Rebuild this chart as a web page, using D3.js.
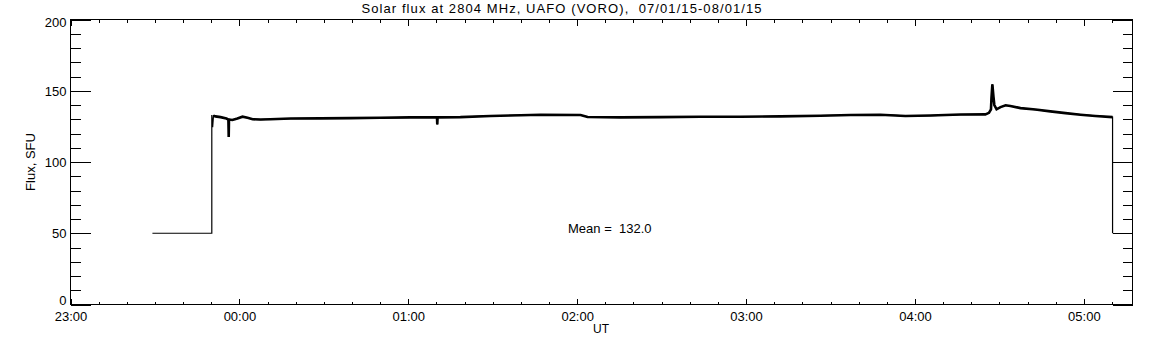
<!DOCTYPE html>
<html>
<head>
<meta charset="utf-8">
<script src="https://cdn.jsdelivr.net/npm/d3@7"></script>
<style>
  html, body { margin: 0; padding: 0; background: #fff; }
  svg text { font-family: "Liberation Sans", Arial, sans-serif; fill: #000; white-space: pre; }
</style>
</head>
<body>
<svg id="chart" width="1152" height="345"></svg>
<script>
// ---------------- data ----------------
const titleText = "Solar flux at 2804 MHz, UAFO (VORO),  07/01/15-08/01/15";
const yLabel = "Flux, SFU";
const xLabel = "UT";
const meanText = "Mean =  132.0";

const xTickLabels = ["23:00", "00:00", "01:00", "02:00", "03:00", "04:00", "05:00"];
const yTickLabels = [0, 50, 100, 150, 200];

const times = [
  "23:29:06", "23:50:12", "23:50:12", "23:50:30", "23:50:48", "23:51:30", "23:53:18",
  "23:55:24", "23:56:06", "23:56:12", "23:56:18", "23:57:30", "23:59:18", "00:01:06",
  "00:02:54", "00:04:42", "00:07:30", "00:11:00", "00:18:12", "00:28:48", "00:39:30",
  "00:50:06", "01:00:48", "01:10:12", "01:10:18", "01:10:24", "01:18:30", "01:29:12",
  "01:39:54", "01:47:00", "02:01:12", "02:03:42", "02:15:24", "02:29:36", "02:43:48",
  "02:58:00", "03:12:12", "03:26:24", "03:37:06", "03:47:42", "03:56:36", "04:05:30",
  "04:16:12", "04:25:00", "04:26:18", "04:27:00", "04:27:12", "04:27:30", "04:27:54",
  "04:28:12", "04:29:00", "04:30:24", "04:32:12", "04:33:54", "04:37:30", "04:42:48",
  "04:48:06", "04:53:30", "04:58:48", "05:04:06", "05:10:12", "05:10:12"
];
const flux = [
  50, 50, 133, 124.5, 132.5, 132, 131.5,
  130.5, 129.8, 117.6, 129.8, 129.5, 130.5, 131.8,
  131, 130, 129.8, 130, 130.5, 130.6, 130.8,
  131, 131.3, 131.3, 126.3, 131.3, 131.5, 132.3,
  132.8, 133.2, 133, 131.6, 131.3, 131.5, 131.8,
  131.8, 132, 132.5, 133, 133.2, 132.3, 132.6,
  133.3, 133.4, 134.5, 137, 145.5, 154.5, 145.5,
  140, 137, 138.5, 139.8, 139.3, 137.8, 136.8,
  135.5, 134.3, 133.2, 132.3, 131.5, 50
];

const xStart = "23:00:00";
const xEnd = "05:17:17";

// ---------------- helpers ----------------
function parseT(s) {
  const p = s.split(":").map(Number);
  const h = p[0], m = p[1] || 0, sec = p[2] || 0;
  const day = h >= 12 ? 7 : 8; // 07/01/15 evening, 08/01/15 morning
  return new Date(Date.UTC(2015, 0, day, h, m, sec));
}

const data = times.map((t, i) => ({ t: parseT(t), v: flux[i] }));

// ---------------- layout ----------------
const L = 70.5, R = 1132.5, T = 19.5, B = 304.5;
const svg = d3.select("#chart");

const x = d3.scaleUtc().domain([parseT(xStart), parseT(xEnd)]).range([L, R]);
const y = d3.scaleLinear().domain([0, 200]).range([B, T]);

const hourTicks = xTickLabels.map(parseT);
const minorX = d3.utcMinute.every(10).range(parseT(xStart), parseT(xEnd));
const majorY = yTickLabels;
const minorY = d3.range(0, 201, 10);

function clean(g) { g.select(".domain").remove(); g.selectAll("line").attr("stroke", "#000").attr("shape-rendering", "crispEdges"); }

// bottom axis ticks (inward, upward)
svg.append("g").attr("transform", `translate(0,${B})`)
  .call(d3.axisTop(x).tickValues(minorX).tickSize(3).tickFormat("")).call(clean);
svg.append("g").attr("transform", `translate(0,${B})`)
  .call(d3.axisTop(x).tickValues(hourTicks).tickSize(6).tickFormat("")).call(clean);
// bottom labels
const bl = svg.append("g").attr("transform", `translate(0,${B})`)
  .call(d3.axisBottom(x).tickValues(hourTicks).tickSize(0).tickPadding(7)
    .tickFormat((d, i) => xTickLabels[i])).call(clean);
bl.selectAll("text").attr("font-size", 13).attr("font-family", null);

// top axis ticks (inward, downward)
svg.append("g").attr("transform", `translate(0,${T})`)
  .call(d3.axisBottom(x).tickValues(minorX).tickSize(3).tickFormat("")).call(clean);
svg.append("g").attr("transform", `translate(0,${T})`)
  .call(d3.axisBottom(x).tickValues(hourTicks).tickSize(6).tickFormat("")).call(clean);

// left axis ticks (inward, right)
svg.append("g").attr("transform", `translate(${L},0)`)
  .call(d3.axisRight(y).tickValues(minorY).tickSize(10).tickFormat("")).call(clean);
svg.append("g").attr("transform", `translate(${L},0)`)
  .call(d3.axisRight(y).tickValues(majorY).tickSize(20).tickFormat("")).call(clean);
const ll = svg.append("g").attr("transform", `translate(${L},0)`)
  .call(d3.axisLeft(y).tickValues(majorY).tickSize(0).tickPadding(4)).call(clean);
ll.selectAll("text").attr("font-size", 13).attr("font-family", null)
  .attr("y", d => d === 0 ? -4 : (d === 200 ? 3 : 0.5));

// right axis ticks (inward, left)
svg.append("g").attr("transform", `translate(${R},0)`)
  .call(d3.axisLeft(y).tickValues(minorY).tickSize(10).tickFormat("")).call(clean);
svg.append("g").attr("transform", `translate(${R},0)`)
  .call(d3.axisLeft(y).tickValues(majorY).tickSize(20).tickFormat("")).call(clean);

// frame
svg.append("rect").attr("x", L).attr("y", T).attr("width", R - L).attr("height", B - T)
  .attr("fill", "none").attr("stroke", "#000").attr("shape-rendering", "crispEdges");

// data line
const line = d3.line().x(d => x(d.t)).y(d => y(d.v));
svg.append("path").datum(data).attr("d", line)
  .attr("fill", "none").attr("stroke", "#000").attr("stroke-width", 1.2);
// noisy measurement band drawn thicker
const noisy = data.slice(4, data.length - 1);
svg.append("path").datum(noisy).attr("d", line)
  .attr("fill", "none").attr("stroke", "#000").attr("stroke-width", 2.6);

// texts
svg.append("text").attr("x", 561.5).attr("y", 13).attr("text-anchor", "middle")
  .attr("font-size", 13).attr("textLength", 400).attr("lengthAdjust", "spacing").text(titleText);
svg.append("text").attr("x", 601).attr("y", 333).attr("text-anchor", "middle")
  .attr("font-size", 12).text(xLabel);
svg.append("text").attr("transform", "translate(35,162) rotate(-90)").attr("text-anchor", "middle")
  .attr("font-size", 13).text(yLabel);
svg.append("text").attr("x", 568).attr("y", 233).attr("font-size", 13).text(meanText);
</script>
</body>
</html>
